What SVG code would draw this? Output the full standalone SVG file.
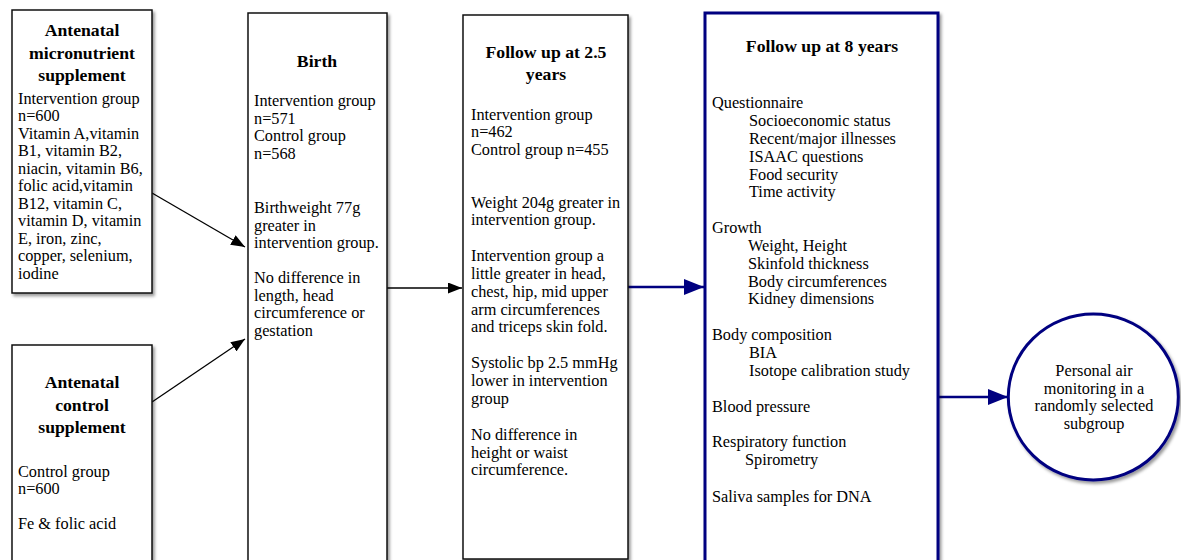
<svg xmlns="http://www.w3.org/2000/svg" width="1181" height="560" viewBox="0 0 1181 560">
<style>
.box{fill:#fff;stroke:#111;stroke-width:1.5}
.bbox{fill:#fff;stroke:#000080;stroke-width:3}
.h{font-family:"Liberation Serif","Times New Roman",serif;font-weight:bold;font-size:17.7px;text-anchor:middle;fill:#000}
.t{font-family:"Liberation Serif","Times New Roman",serif;font-size:16.3px;fill:#000}
.c{text-anchor:middle}
.k{stroke:#000;stroke-width:1.3;fill:none}
.n{stroke:#000080;stroke-width:2.6;fill:none}
</style>
<defs>
<filter id="sh" x="-10%" y="-10%" width="130%" height="130%">
<feDropShadow dx="2" dy="2.5" stdDeviation="1.5" flood-color="#000" flood-opacity="0.4"/>
</filter>
<marker id="ak" markerUnits="userSpaceOnUse" markerWidth="14" markerHeight="11" refX="14" refY="5.5" orient="auto">
<path d="M0,0 L14,5.5 L0,11 z" fill="#000"/>
</marker>
<marker id="an" markerUnits="userSpaceOnUse" markerWidth="20" markerHeight="16" refX="20" refY="8" orient="auto">
<path d="M0,0 L20,8 L0,16 z" fill="#000080"/>
</marker>
</defs>
<rect width="1181" height="560" fill="#fff"/>

<g id="connectors">
<line class="k" x1="152" y1="193" x2="245" y2="247" marker-end="url(#ak)"/>
<line class="k" x1="152" y1="402" x2="245" y2="339" marker-end="url(#ak)"/>
<line class="k" x1="387" y1="288" x2="462" y2="288" marker-end="url(#ak)"/>
<line class="n" x1="628" y1="287" x2="704" y2="287" marker-end="url(#an)"/>
<line class="n" x1="938" y1="397" x2="1008" y2="397" marker-end="url(#an)"/>
</g>

<g id="micronutrient">
<rect class="box" x="12" y="10" width="140" height="283" filter="url(#sh)"/>
<text class="h" x="82" y="36">Antenatal</text>
<text class="h" x="82" y="59">micronutrient</text>
<text class="h" x="82" y="81">supplement</text>
<text class="t" x="18" y="103.5">Intervention group</text>
<text class="t" x="18" y="121">n=600</text>
<text class="t" x="18" y="138.5">Vitamin A,vitamin</text>
<text class="t" x="18" y="156">B1, vitamin B2,</text>
<text class="t" x="18" y="173.5">niacin, vitamin B6,</text>
<text class="t" x="18" y="191">folic acid,vitamin</text>
<text class="t" x="18" y="208.5">B12, vitamin C,</text>
<text class="t" x="18" y="226">vitamin D, vitamin</text>
<text class="t" x="18" y="243.5">E, iron, zinc,</text>
<text class="t" x="18" y="261">copper, selenium,</text>
<text class="t" x="18" y="278.5">iodine</text>
</g>

<g id="control">
<rect class="box" x="12" y="345" width="140" height="240" filter="url(#sh)"/>
<text class="h" x="82" y="388">Antenatal</text>
<text class="h" x="82" y="410.5">control</text>
<text class="h" x="82" y="433">supplement</text>
<text class="t" x="18" y="476.5">Control group</text>
<text class="t" x="18" y="494">n=600</text>
<text class="t" x="18" y="528.5">Fe &amp; folic acid</text>
</g>

<g id="birth">
<rect class="box" x="248" y="13" width="139" height="570" filter="url(#sh)"/>
<text class="h" x="317" y="67">Birth</text>
<text class="t" x="254" y="106">Intervention group</text>
<text class="t" x="254" y="123.5">n=571</text>
<text class="t" x="254" y="141">Control group</text>
<text class="t" x="254" y="158.5">n=568</text>
<text class="t" x="254" y="213">Birthweight 77g</text>
<text class="t" x="254" y="230.5">greater in</text>
<text class="t" x="254" y="248">intervention group.</text>
<text class="t" x="254" y="283">No difference in</text>
<text class="t" x="254" y="300.5">length, head</text>
<text class="t" x="254" y="318">circumference or</text>
<text class="t" x="254" y="335.5">gestation</text>
</g>

<g id="followup25">
<rect class="box" x="463" y="15" width="165" height="544" filter="url(#sh)"/>
<text class="h" x="546" y="57.5">Follow up at 2.5</text>
<text class="h" x="546" y="80">years</text>
<text class="t" x="471" y="119.5">Intervention group</text>
<text class="t" x="471" y="137">n=462</text>
<text class="t" x="471" y="154.5">Control group n=455</text>
<text class="t" x="471" y="207.5">Weight 204g greater in</text>
<text class="t" x="471" y="225">intervention group.</text>
<text class="t" x="471" y="261">Intervention group a</text>
<text class="t" x="471" y="279">little greater in head,</text>
<text class="t" x="471" y="296.5">chest, hip, mid upper</text>
<text class="t" x="471" y="314.5">arm circumferences</text>
<text class="t" x="471" y="332">and triceps skin fold.</text>
<text class="t" x="471" y="368">Systolic bp 2.5 mmHg</text>
<text class="t" x="471" y="386">lower in intervention</text>
<text class="t" x="471" y="403.5">group</text>
<text class="t" x="471" y="439.5">No difference in</text>
<text class="t" x="471" y="457.5">height or waist</text>
<text class="t" x="471" y="475">circumference.</text>
</g>

<g id="followup8">
<rect class="bbox" x="705" y="13" width="233" height="570" filter="url(#sh)"/>
<text class="h" x="822" y="52">Follow up at 8 years</text>
<text class="t" x="712" y="107.5">Questionnaire</text>
<text class="t" x="749" y="125.5">Socioeconomic status</text>
<text class="t" x="749" y="143.5">Recent/major illnesses</text>
<text class="t" x="749" y="161.5">ISAAC questions</text>
<text class="t" x="749" y="179.5">Food security</text>
<text class="t" x="749" y="197">Time activity</text>
<text class="t" x="712" y="233">Growth</text>
<text class="t" x="748" y="251">Weight, Height</text>
<text class="t" x="748" y="268.5">Skinfold thickness</text>
<text class="t" x="748" y="286.5">Body circumferences</text>
<text class="t" x="748" y="304">Kidney dimensions</text>
<text class="t" x="712" y="340">Body composition</text>
<text class="t" x="749" y="358">BIA</text>
<text class="t" x="749" y="376">Isotope calibration study</text>
<text class="t" x="712" y="411.5">Blood pressure</text>
<text class="t" x="712" y="447">Respiratory function</text>
<text class="t" x="745" y="465">Spirometry</text>
<text class="t" x="712" y="501.5">Saliva samples for DNA</text>
</g>

<g id="airmonitoring">
<ellipse cx="1093.3" cy="397" rx="85" ry="83" fill="#fff" stroke="#000080" stroke-width="3" filter="url(#sh)"/>
<text class="t c" x="1094" y="376">Personal air</text>
<text class="t c" x="1094" y="393.5">monitoring in a</text>
<text class="t c" x="1094" y="411">randomly selected</text>
<text class="t c" x="1094" y="428.5">subgroup</text>
</g>
</svg>
